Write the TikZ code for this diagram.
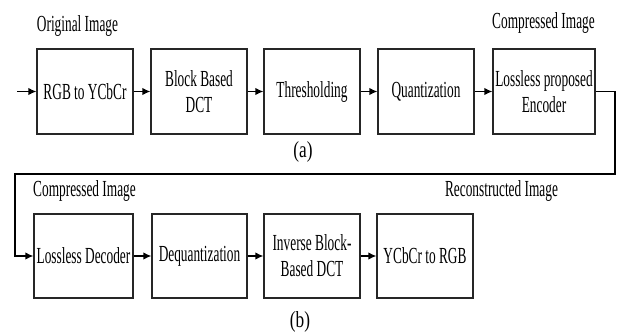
\documentclass[tikz,border=0pt]{standalone}
\usepackage{fontspec}
\setmainfont[FakeStretch=0.58]{Liberation Serif}
\newfontfamily\capfont[FakeStretch=0.75]{Liberation Serif}
\usetikzlibrary{arrows.meta}

\begin{document}
\begin{tikzpicture}[x=1pt,y=-1pt,
    blk/.style={draw=black!85,line width=1.3pt,minimum height=85pt,inner sep=0pt,align=center,font=\fontsize{23}{26}\selectfont},
    lbl/.style={inner sep=0pt,anchor=base,font=\fontsize{23}{26}\selectfont},
    >={Latex[length=8pt,width=7.5pt]}]
                \useasboundingbox (0,0) rectangle (617,335);

                % (a) compression
                \node[blk,minimum width=96pt] (rgb) at (85,91.5) {RGB to YCbCr};
                \node[blk,minimum width=96pt] (dct) at (199,91.5) {Block Based\\DCT};
                \node[blk,minimum width=96pt] (thr) at (312,91.5) {Thresholding};
                \node[blk,minimum width=96pt] (qnt) at (426,91.5) {Quantization};
                \node[blk,minimum width=102pt] (enc) at (544,91.5) {Lossless proposed\\Encoder};

                \node[lbl] (orig) at (77.5,31) {Original Image};
                \node[lbl] (cmpa) at (543.5,28) {Compressed Image};
                \node[inner sep=0pt,font=\capfont\fontsize{23}{26}\selectfont] (capa) at (303,152) {(a)};

                % (b) decompression
                \node[blk,minimum width=99pt,minimum height=84pt] (dec) at (83.5,256) {Lossless Decoder};
                \node[blk,minimum width=95pt,minimum height=84pt] (deq) at (199.5,256) {Dequantization};
                \node[blk,minimum width=96pt,minimum height=84pt] (idct) at (312,256) {Inverse Block-\\Based DCT};
                \node[blk,minimum width=96pt,minimum height=84pt] (ycc) at (425,256) {YCbCr to RGB};

                \node[lbl] (cmpb) at (84.5,196) {Compressed Image};
                \node[lbl] (recon) at (501.5,196) {Reconstructed Image};
                \node[inner sep=0pt,font=\capfont\fontsize{23}{26}\selectfont] (capb) at (300,322) {(b)};

                \coordinate (in) at (17,91.5);
                \coordinate (r1) at (615,174);
                \coordinate (r2) at (15,174);

                \draw[->,line width=1.3pt] (in) -- (rgb);
                \draw[->,line width=1.3pt] (rgb) -- (dct);
                \draw[->,line width=1.3pt] (dct) -- (thr);
                \draw[->,line width=1.3pt] (thr) -- (qnt);
                \draw[->,line width=1.3pt] (qnt) -- (enc);
                \draw[->,line width=1.3pt] (enc.east) -| (r1) -- (r2) |- (dec.west);
                \draw[->,line width=1.3pt] (dec) -- (deq);
                \draw[->,line width=1.3pt] (deq) -- (idct);
                \draw[->,line width=1.3pt] (idct) -- (ycc);
            \end{tikzpicture}
\end{document}
